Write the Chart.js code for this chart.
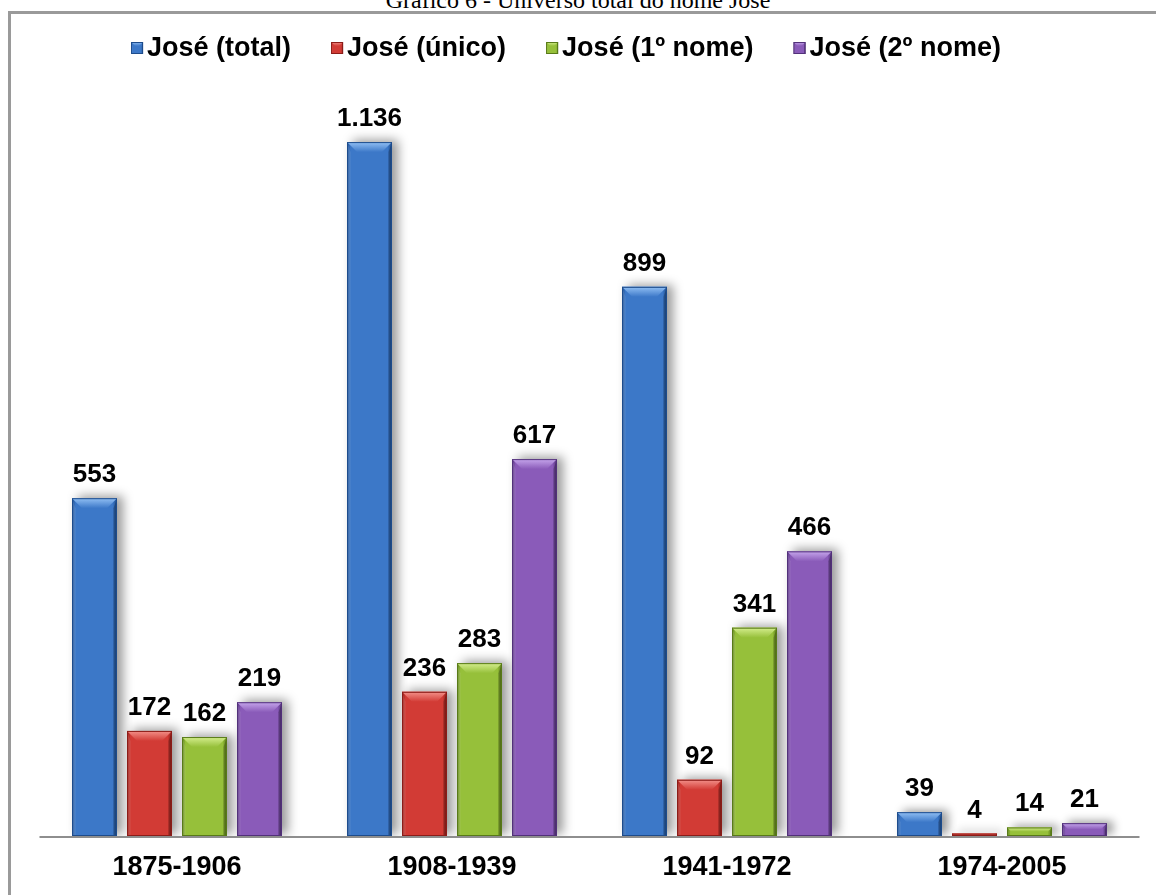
<!DOCTYPE html>
<html>
<head>
<meta charset="utf-8">
<script src="https://cdn.jsdelivr.net/npm/chart.js@4.4.0/dist/chart.umd.min.js"></script>
<style>
html,body{margin:0;padding:0;background:#fff;overflow:hidden;width:1156px;height:895px}
#frame{position:absolute;left:8px;top:11px;width:1300px;height:1000px;border-left:3px solid #9a9a9a;border-top:3px solid #9a9a9a;box-sizing:border-box}
#title{position:absolute;left:0;top:-12px;width:1156px;text-align:center;font:24px "Liberation Serif","Times New Roman",serif;line-height:24px;color:#000;white-space:nowrap}
#wrap{position:absolute;left:0;top:0;width:1156px;height:895px}
</style>
</head>
<body>
<div id="frame"></div>
<div id="title">Gráfico 6 - Universo total do nome José</div>
<div id="wrap"><canvas id="c" width="1156" height="895"></canvas></div>
<script>
const categories = ['1875-1906', '1908-1939', '1941-1972', '1974-2005'];
const seriesNames = ['José (total)', 'José (único)', 'José (1º nome)', 'José (2º nome)'];
const joseTotal = [553, 1136, 899, 39];
const joseUnico = [172, 236, 92, 4];
const jose1Nome = [162, 283, 341, 14];
const jose2Nome = [219, 617, 466, 21];

const palette = [
  {base:'#3c78c8', light:'#92c0f4', dark:'#1d4c8c'},
  {base:'#d23b35', light:'#f3918a', dark:'#8c1c18'},
  {base:'#96c03a', light:'#d5ee8e', dark:'#587a18'},
  {base:'#8a5bb9', light:'#c6a6ec', dark:'#52317a'}
];
const FONT = '"Liberation Sans", Arial, sans-serif';

function fmt(v){ return String(v).replace(/\B(?=(\d{3})+(?!\d))/g, '.'); }

function bevelRect(ctx, l, t, r, b, col, bev){
  const w = r - l, h = b - t;
  if (w <= 0 || h <= 0) return;
  const g = ctx.createLinearGradient(l, 0, r, 0);
  g.addColorStop(0, col.dark);
  g.addColorStop(0.08, col.base);
  g.addColorStop(0.5, col.base);
  g.addColorStop(0.9, col.base);
  g.addColorStop(1, col.dark);
  ctx.fillStyle = g;
  ctx.fillRect(l, t, w, h);
  const s = Math.min(bev, h / 2, w / 3);
  if (s > 0.5) {
    const gt = ctx.createLinearGradient(0, t, 0, t + s);
    gt.addColorStop(0, col.light);
    gt.addColorStop(1, col.base);
    ctx.fillStyle = gt;
    ctx.beginPath();
    ctx.moveTo(l, t); ctx.lineTo(r, t); ctx.lineTo(r - s, t + s); ctx.lineTo(l + s, t + s); ctx.closePath();
    ctx.fill();
    ctx.fillStyle = 'rgba(255,255,255,0.12)';
    ctx.beginPath();
    ctx.moveTo(l, t); ctx.lineTo(l + s * 0.35, t + s); ctx.lineTo(l + s * 0.35, b); ctx.lineTo(l, b); ctx.closePath();
    ctx.fill();
    ctx.fillStyle = 'rgba(0,0,0,0.22)';
    ctx.beginPath();
    ctx.moveTo(r, t); ctx.lineTo(r - s * 0.35, t + s); ctx.lineTo(r - s * 0.35, b); ctx.lineTo(r, b); ctx.closePath();
    ctx.fill();
  }
  ctx.strokeStyle = col.dark;
  ctx.lineWidth = 1;
  ctx.strokeRect(l + 0.5, t + 0.5, w - 1, h - 1);
}

const bevelPlugin = {
  id: 'bevel',
  beforeDatasetsDraw(chart){
    const ctx = chart.ctx;
    const a = chart.chartArea;
    ctx.save();
    ctx.strokeStyle = '#8e8e8e';
    ctx.lineWidth = 2;
    ctx.beginPath();
    ctx.moveTo(a.left, a.bottom + 1);
    ctx.lineTo(a.right, a.bottom + 1);
    ctx.stroke();
    ctx.restore();
    ctx.save();
    ctx.shadowColor = 'rgba(0,0,0,0.4)';
    ctx.shadowBlur = 10;
    ctx.shadowOffsetX = 6;
    ctx.shadowOffsetY = -2;
  },
  afterDatasetsDraw(chart){
    const ctx = chart.ctx;
    ctx.restore();
    chart.data.datasets.forEach((ds, i) => {
      const meta = chart.getDatasetMeta(i);
      meta.data.forEach((el, j) => {
        const l = el.x - el.width / 2, r = el.x + el.width / 2;
        const t = Math.min(el.y, el.base), b = Math.max(el.y, el.base);
        ctx.save();
        bevelRect(ctx, l, t, r, b, palette[i], 10);
        ctx.restore();
        ctx.save();
        ctx.font = 'bold 26px ' + FONT;
        ctx.fillStyle = '#000';
        ctx.textAlign = 'center';
        ctx.textBaseline = 'alphabetic';
        ctx.fillText(fmt(ds.data[j]), el.x, t - 16);
        ctx.restore();
      });
    });
  }
};

const legendPlugin = {
  id: 'customLegend',
  afterDraw(chart){
    const ctx = chart.ctx;
    ctx.save();
    ctx.font = 'bold 27px ' + FONT;
    const box = 12, gapText = 4, gapItem = 40;
    const widths = chart.data.datasets.map(d => ctx.measureText(d.label).width);
    const total = widths.reduce((a, w) => a + box + gapText + w, 0) + gapItem * (widths.length - 1);
    let x = 566 - total / 2;
    const cy = 48;
    chart.data.datasets.forEach((d, i) => {
      bevelRect(ctx, x, cy - 6, x + box, cy + 6, palette[i], 4);
      ctx.fillStyle = '#000';
      ctx.textAlign = 'left';
      ctx.textBaseline = 'middle';
      ctx.fillText(d.label, x + box + gapText, cy + 1);
      x += box + gapText + widths[i] + gapItem;
    });
    ctx.restore();
  }
};

const seriesValues = [joseTotal, joseUnico, jose1Nome, jose2Nome];

new Chart(document.getElementById('c'), {
  type: 'bar',
  data: {
    labels: categories,
    datasets: seriesValues.map((vals, i) => ({
      label: seriesNames[i],
      data: vals,
      backgroundColor: palette[i].base,
      borderWidth: 0,
      categoryPercentage: 0.8,
      barPercentage: 0.818
    }))
  },
  options: {
    responsive: false,
    animation: false,
    devicePixelRatio: 1,
    layout: { padding: { left: 39.5, right: 16.5, top: 103, bottom: 10 } },
    plugins: { legend: { display: false }, title: { display: false }, tooltip: { enabled: false } },
    scales: {
      x: {
        grid: { display: false, drawTicks: false },
        border: { display: false },
        ticks: { color: '#000', font: { family: FONT, size: 27, weight: 'bold' }, padding: 15 },
        afterFit(scale){ scale.height = 49; }
      },
      y: { display: false, min: 0, max: 1200 }
    }
  },
  plugins: [bevelPlugin, legendPlugin]
});
</script>
</body>
</html>
